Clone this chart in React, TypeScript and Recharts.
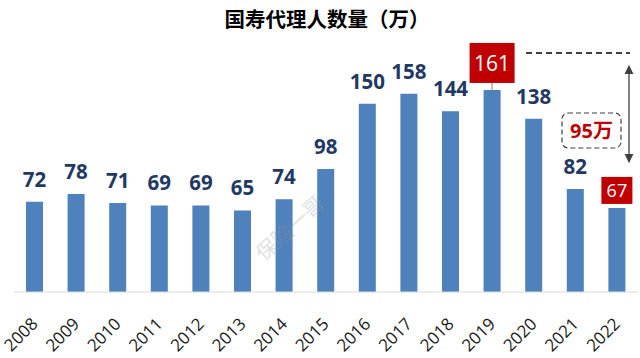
import React from "react";
import { BarChart, Bar, XAxis, YAxis, LabelList } from "recharts";

const years = ["2008","2009","2010","2011","2012","2013","2014","2015","2016","2017","2018","2019","2020","2021","2022"];
const agents = [72, 78, 71, 69, 69, 65, 74, 98, 150, 158, 144, 161, 138, 82, 67];
const highlightYears = ["2019", "2022"];
const titleText = "国寿代理人数量（万）";
const dropText = "95万";
const watermark = "保险一哥";

const data = years.map((y, i) => ({ year: y, value: agents[i] }));

const BLUE = "#4F81BD";
const NAVY = "#1F3864";
const RED = "#C00000";
const NUM_FONT = "'Open Sans', 'Noto Sans CJK SC', sans-serif";

const ValueLabel = (props: any) => {
  const { x, y, width, value, index } = props;
  const cx = x + width / 2;
  const yr = years[index];
  if (highlightYears.includes(yr)) {
    const big = yr === "2019";
    const w = big ? 45 : 31;
    const h = big ? 40 : 27;
    const gap = big ? 7 : 4;
    const top = y - gap - h;
    return (
      <g>
        {big && <line x1={cx} x2={cx} y1={y - gap} y2={y} stroke="#7f7f7f" strokeWidth={1} />}
        <rect x={cx - w / 2} y={top} width={w} height={h} fill={RED} />
        <text x={cx} y={top + h / 2} dy="0.36em" textAnchor="middle" fill="#fff"
          fontFamily={NUM_FONT} fontSize={big ? 21 : 18}>{value}</text>
      </g>
    );
  }
  return (
    <text x={cx} y={y - 15} textAnchor="middle" fill={NAVY} fontFamily={NUM_FONT}
      fontWeight={700} fontSize={20.5}>{value}</text>
  );
};

const YearTick = (props: any) => {
  const { x, y, payload } = props;
  const ax = x + 4;
  const ay = y + 25;
  return (
    <text x={ax} y={ay} transform={`rotate(-45, ${ax}, ${ay})`} textAnchor="end"
      fill="#1a1a1a" fontFamily={NUM_FONT} fontSize={17}>{payload.value}</text>
  );
};

export default function App() {
  return (
    <div style={{ position: "absolute", left: 0, top: 0, width: 640, height: 358, background: "#fff" }}>
      <BarChart width={640} height={358} data={data}
        margin={{ top: 41, right: 2, left: 14, bottom: 10 }}>
        <XAxis dataKey="year" axisLine={{ stroke: "#D9D9D9", strokeWidth: 1 }} tickLine={false}
          interval={0} height={56} tick={<YearTick />} />
        <YAxis hide domain={[0, 200]} />
        <Bar dataKey="value" fill={BLUE} barSize={17} isAnimationActive={false}>
          <LabelList dataKey="value" content={<ValueLabel />} />
        </Bar>
      </BarChart>
      <svg width={640} height={358} style={{ position: "absolute", left: 0, top: 0, pointerEvents: "none" }}>
        <defs>
          <marker id="ah" viewBox="0 0 10 10" refX="9" refY="5" markerWidth="7" markerHeight="7" orient="auto-start-reverse">
            <path d="M0,0 L10,5 L0,10 z" fill="#404040" />
          </marker>
        </defs>
        <text x={327} y={27} textAnchor="middle" fontFamily="'Noto Sans CJK SC', sans-serif"
          fontWeight={700} fontSize={20.5} fill="#000">{titleText}</text>
        <text x={0} y={0} transform="translate(264,262) rotate(-42)" fontFamily="'Noto Sans CJK SC', sans-serif"
          fontSize={21} fill="#9a9a9a" opacity={0.3}>{watermark}</text>
        <line x1={526} x2={630} y1={53} y2={53} stroke="#000" strokeWidth={1.3} strokeDasharray="6 4" />
        <line x1={629} x2={629} y1={66} y2={162} stroke="#404040" strokeWidth={1.3}
          markerStart="url(#ah)" markerEnd="url(#ah)" />
        <rect x={562} y={113} width={59} height={35} rx={6} fill="#fff" stroke="#404040"
          strokeWidth={1.2} strokeDasharray="5 3" />
        <text x={591.5} y={131} dy="0.36em" textAnchor="middle" fontFamily={NUM_FONT}
          fontWeight={700} fontSize={20} fill={RED}>{dropText}</text>
      </svg>
    </div>
  );
}
